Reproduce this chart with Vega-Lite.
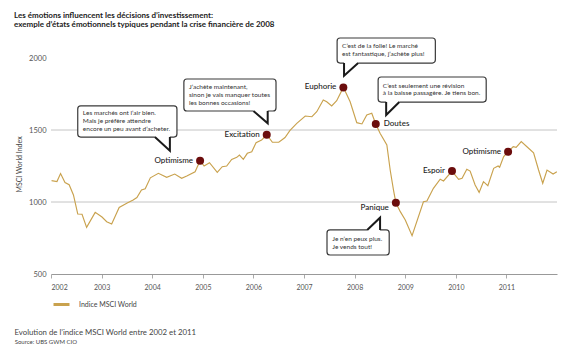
{
  "$schema": "https://vega.github.io/schema/vega-lite/v6.json",
  "width": 506,
  "height": 216,
  "autosize": {"type": "none"},
  "padding": {"left": 51, "top": 58, "right": 23, "bottom": 84},
  "background": "white",
  "title": {
    "text": ["Les émotions influencent les décisions d’investissement:", "exemple d’états émotionnels typiques pendant la crise financière de 2008"],
    "anchor": "start", "frame": "group", "dx": -37, "offset": 8,
    "font": "Lato", "fontSize": 8, "fontWeight": "bold", "color": "#222", "lineHeight": 9.5
  },
  "datasets": {
    "index": [
      {"date": "2002-01-05", "value": 1148}, {"date": "2002-02-13", "value": 1142}, {"date": "2002-03-11", "value": 1198},
      {"date": "2002-04-12", "value": 1135}, {"date": "2002-05-12", "value": 1120}, {"date": "2002-06-12", "value": 1049},
      {"date": "2002-07-13", "value": 917}, {"date": "2002-08-13", "value": 915}, {"date": "2002-09-15", "value": 824},
      {"date": "2002-11-16", "value": 928}, {"date": "2003-01-04", "value": 896}, {"date": "2003-02-07", "value": 863},
      {"date": "2003-03-15", "value": 847}, {"date": "2003-05-08", "value": 962}, {"date": "2003-07-05", "value": 993},
      {"date": "2003-08-17", "value": 1014}, {"date": "2003-09-13", "value": 1031}, {"date": "2003-10-16", "value": 1083},
      {"date": "2003-11-12", "value": 1092}, {"date": "2003-12-19", "value": 1168}, {"date": "2004-02-15", "value": 1199},
      {"date": "2004-04-15", "value": 1171}, {"date": "2004-06-12", "value": 1194}, {"date": "2004-08-01", "value": 1165},
      {"date": "2004-09-07", "value": 1181}, {"date": "2004-11-06", "value": 1210}, {"date": "2004-12-12", "value": 1287},
      {"date": "2005-01-10", "value": 1250}, {"date": "2005-02-18", "value": 1273}, {"date": "2005-04-15", "value": 1206},
      {"date": "2005-05-21", "value": 1245}, {"date": "2005-06-22", "value": 1250}, {"date": "2005-07-28", "value": 1296},
      {"date": "2005-09-03", "value": 1310}, {"date": "2005-09-22", "value": 1326}, {"date": "2005-10-20", "value": 1296},
      {"date": "2005-11-18", "value": 1338}, {"date": "2005-12-20", "value": 1349}, {"date": "2006-01-20", "value": 1412},
      {"date": "2006-03-01", "value": 1430}, {"date": "2006-04-07", "value": 1467}, {"date": "2006-05-18", "value": 1415},
      {"date": "2006-07-03", "value": 1415}, {"date": "2006-08-17", "value": 1448}, {"date": "2006-09-22", "value": 1497},
      {"date": "2006-11-10", "value": 1546}, {"date": "2007-01-10", "value": 1597}, {"date": "2007-02-27", "value": 1592},
      {"date": "2007-04-03", "value": 1627}, {"date": "2007-05-20", "value": 1708}, {"date": "2007-06-14", "value": 1696},
      {"date": "2007-07-20", "value": 1667}, {"date": "2007-08-25", "value": 1703}, {"date": "2007-10-12", "value": 1796},
      {"date": "2007-11-30", "value": 1696}, {"date": "2008-01-17", "value": 1551}, {"date": "2008-02-23", "value": 1542},
      {"date": "2008-03-29", "value": 1604}, {"date": "2008-05-04", "value": 1616}, {"date": "2008-06-02", "value": 1542},
      {"date": "2008-07-03", "value": 1477}, {"date": "2008-08-21", "value": 1396}, {"date": "2008-09-14", "value": 1222},
      {"date": "2008-10-08", "value": 1083}, {"date": "2008-10-25", "value": 995}, {"date": "2008-11-26", "value": 933},
      {"date": "2009-01-01", "value": 875}, {"date": "2009-02-19", "value": 766}, {"date": "2009-05-12", "value": 1002},
      {"date": "2009-06-06", "value": 1007}, {"date": "2009-07-23", "value": 1095}, {"date": "2009-09-10", "value": 1158},
      {"date": "2009-10-04", "value": 1146}, {"date": "2009-12-04", "value": 1215}, {"date": "2010-01-21", "value": 1158},
      {"date": "2010-02-15", "value": 1165}, {"date": "2010-03-21", "value": 1227}, {"date": "2010-04-14", "value": 1215},
      {"date": "2010-05-20", "value": 1118}, {"date": "2010-06-18", "value": 1067}, {"date": "2010-07-19", "value": 1141},
      {"date": "2010-08-20", "value": 1113}, {"date": "2010-10-01", "value": 1234}, {"date": "2010-11-02", "value": 1250},
      {"date": "2010-11-13", "value": 1241}, {"date": "2010-12-12", "value": 1315}, {"date": "2011-01-13", "value": 1349},
      {"date": "2011-02-19", "value": 1384}, {"date": "2011-03-12", "value": 1380}, {"date": "2011-04-18", "value": 1419},
      {"date": "2011-05-29", "value": 1384}, {"date": "2011-07-16", "value": 1342}, {"date": "2011-08-21", "value": 1222},
      {"date": "2011-09-20", "value": 1130}, {"date": "2011-10-21", "value": 1222}, {"date": "2011-12-04", "value": 1194},
      {"date": "2011-12-31", "value": 1210}
    ],
    "events": [
      {"date": "2004-12-12", "value": 1287, "label": "Optimisme", "pos": "left"},
      {"date": "2006-04-07", "value": 1467, "label": "Excitation", "pos": "left"},
      {"date": "2007-10-12", "value": 1796, "label": "Euphorie", "pos": "left"},
      {"date": "2008-06-02", "value": 1542, "label": "Doutes", "pos": "right"},
      {"date": "2008-10-25", "value": 995, "label": "Panique", "pos": "below"},
      {"date": "2009-12-04", "value": 1215, "label": "Espoir", "pos": "left"},
      {"date": "2011-01-13", "value": 1349, "label": "Optimisme", "pos": "left"}
    ],
    "bubbles": [
      {"id": 1, "x1": "2002-07-13", "x2": "2004-06-28", "y1": 1667, "y2": 1451},
      {"id": 2, "x1": "2004-08-17", "x2": "2006-06-13", "y1": 1854, "y2": 1632},
      {"id": 3, "x1": "2007-08-28", "x2": "2009-08-06", "y1": 2139, "y2": 1965},
      {"id": 4, "x1": "2008-06-19", "x2": "2010-08-08", "y1": 1868, "y2": 1694},
      {"id": 5, "x1": "2007-06-16", "x2": "2008-09-07", "y1": 806, "y2": 632}
    ],
    "btext": [
      {"id": 1, "date": "2002-08-19", "value": 1621, "text": "Les marchés ont l’air bien."},
      {"id": 1, "date": "2002-08-19", "value": 1562, "text": "Mais je préfère attendre"},
      {"id": 1, "date": "2002-08-19", "value": 1507, "text": "encore un peu avant d’acheter."},
      {"id": 2, "date": "2004-09-23", "value": 1799, "text": "J’achète maintenant,"},
      {"id": 2, "date": "2004-09-23", "value": 1743, "text": "sinon je vais manquer toutes"},
      {"id": 2, "date": "2004-09-23", "value": 1688, "text": "les bonnes occasions!"},
      {"id": 3, "date": "2007-10-03", "value": 2083, "text": "C’est de la folie! Le marché"},
      {"id": 3, "date": "2007-10-03", "value": 2028, "text": "est fantastique, j’achète plus!"},
      {"id": 4, "date": "2008-07-23", "value": 1805, "text": "C’est seulement une révision"},
      {"id": 4, "date": "2008-07-23", "value": 1755, "text": "à la baisse passagère. Je tiens bon."},
      {"id": 5, "date": "2007-07-24", "value": 743, "text": "Je n’en peux plus."},
      {"id": 5, "date": "2007-07-24", "value": 687, "text": "Je vends tout!"}
    ],
    "tails": [
      {"id": 1, "ord": 1, "date": "2004-01-21", "value": 1451},
      {"id": 1, "ord": 2, "date": "2004-05-08", "value": 1356},
      {"id": 1, "ord": 3, "date": "2004-05-08", "value": 1451},
      {"id": 2, "ord": 1, "date": "2006-01-01", "value": 1632},
      {"id": 2, "ord": 2, "date": "2006-04-14", "value": 1546},
      {"id": 2, "ord": 3, "date": "2006-04-14", "value": 1632},
      {"id": 3, "ord": 1, "date": "2007-10-17", "value": 1965},
      {"id": 3, "ord": 2, "date": "2007-10-17", "value": 1877},
      {"id": 3, "ord": 3, "date": "2008-01-27", "value": 1965},
      {"id": 4, "ord": 1, "date": "2008-08-16", "value": 1694},
      {"id": 4, "ord": 2, "date": "2008-08-16", "value": 1604},
      {"id": 4, "ord": 3, "date": "2008-11-19", "value": 1694},
      {"id": 5, "ord": 1, "date": "2008-04-01", "value": 806},
      {"id": 5, "ord": 2, "date": "2008-07-03", "value": 891},
      {"id": 5, "ord": 3, "date": "2008-07-03", "value": 806}
    ],
    "gaps": [
      {"id": 1, "d1": "2004-01-21", "d2": "2004-05-08", "value": 1451},
      {"id": 2, "d1": "2006-01-01", "d2": "2006-04-14", "value": 1632},
      {"id": 3, "d1": "2007-10-17", "d2": "2008-01-27", "value": 1965},
      {"id": 4, "d1": "2008-08-16", "d2": "2008-11-19", "value": 1694},
      {"id": 5, "d1": "2008-04-01", "d2": "2008-07-03", "value": 806}
    ],
    "grid": [{"v": 1000}, {"v": 1500}],
    "source": [{"date": "2001-04-14", "value": 30, "text": "Source: UBS GWM CIO"}]
  },
  "layer": [
    {
      "data": {"name": "grid"},
      "mark": {"type": "rule", "color": "#c4c4c4", "strokeWidth": 1},
      "encoding": {"y": {"field": "v", "type": "quantitative", "scale": {"domain": [500, 2000]}}}
    },
    {
      "data": {"name": "index"},
      "mark": {"type": "line", "strokeWidth": 1.15},
      "encoding": {
        "x": {
          "field": "date", "type": "temporal",
          "scale": {"domain": ["2002-01-01", "2012-01-01"]},
          "axis": {
            "values": [{"year": 2002}, {"year": 2003}, {"year": 2004}, {"year": 2005}, {"year": 2006}, {"year": 2007}, {"year": 2008}, {"year": 2009}, {"year": 2010}, {"year": 2011}],
            "format": "%Y", "labelFlush": true, "grid": false,
            "domainColor": "#999", "tickColor": "#aaa", "tickSize": 4,
            "labelFont": "Lato", "labelFontSize": 7, "labelColor": "#555", "labelPadding": 5,
            "title": "Evolution de l’indice MSCI World entre 2002 et 2011",
            "titleFont": "Lato", "titleFontSize": 7.8, "titleFontWeight": "normal", "titleColor": "#444",
            "titleAnchor": "start", "titleAlign": "left", "titleBaseline": "middle", "titleX": -37, "titleY": 58
          }
        },
        "y": {
          "field": "value", "type": "quantitative",
          "scale": {"domain": [500, 2000]},
          "axis": {
            "values": [500, 1000, 1500, 2000], "format": "d", "grid": false, "domain": false, "ticks": false,
            "labelFont": "Lato", "labelFontSize": 7.5, "labelColor": "#555", "labelPadding": 5,
            "title": "MSCI World Index", "titleFont": "Lato", "titleFontSize": 7, "titleFontWeight": "normal",
            "titleColor": "#444", "titleX": -32, "titleY": 106, "titleAlign": "center", "titleBaseline": "middle"
          }
        },
        "color": {
          "datum": "Indice MSCI World",
          "scale": {"range": ["#c9a24e"]},
          "legend": {
            "title": null, "orient": "none", "legendX": 1, "legendY": 237,
            "symbolType": "stroke", "symbolSize": 256, "symbolStrokeWidth": 3,
            "labelFont": "Lato", "labelFontSize": 7, "labelColor": "#444", "labelOffset": 8
          }
        }
      }
    },
    {
      "data": {"name": "events"},
      "mark": {"type": "circle", "color": "#6b0d0d", "opacity": 1, "size": 64},
      "encoding": {
        "x": {"field": "date", "type": "temporal"},
        "y": {"field": "value", "type": "quantitative", "scale": {"domain": [500, 2000]}}
      }
    },
    {
      "data": {"name": "events"},
      "transform": [{"filter": "datum.pos === 'left'"}],
      "mark": {"type": "text", "align": "right", "baseline": "middle", "dx": -7, "font": "Lato", "fontSize": 8, "fontWeight": 500, "color": "#222"},
      "encoding": {
        "x": {"field": "date", "type": "temporal"},
        "y": {"field": "value", "type": "quantitative", "scale": {"domain": [500, 2000]}},
        "text": {"field": "label"}
      }
    },
    {
      "data": {"name": "events"},
      "transform": [{"filter": "datum.pos === 'right'"}],
      "mark": {"type": "text", "align": "left", "baseline": "middle", "dx": 8, "font": "Lato", "fontSize": 8, "fontWeight": 500, "color": "#222"},
      "encoding": {
        "x": {"field": "date", "type": "temporal"},
        "y": {"field": "value", "type": "quantitative", "scale": {"domain": [500, 2000]}},
        "text": {"field": "label"}
      }
    },
    {
      "data": {"name": "events"},
      "transform": [{"filter": "datum.pos === 'below'"}],
      "mark": {"type": "text", "align": "right", "baseline": "middle", "dx": -7, "dy": 5, "font": "Lato", "fontSize": 8, "fontWeight": 500, "color": "#222"},
      "encoding": {
        "x": {"field": "date", "type": "temporal"},
        "y": {"field": "value", "type": "quantitative", "scale": {"domain": [500, 2000]}},
        "text": {"field": "label"}
      }
    },
    {
      "data": {"name": "bubbles"},
      "mark": {"type": "rect", "fill": "white", "stroke": "#3a3a3a", "strokeWidth": 1.2, "cornerRadius": 3},
      "encoding": {
        "x": {"field": "x1", "type": "temporal"},
        "x2": {"field": "x2"},
        "y": {"field": "y1", "type": "quantitative", "scale": {"domain": [500, 2000]}},
        "y2": {"field": "y2"}
      }
    },
    {
      "data": {"name": "gaps"},
      "mark": {"type": "rule", "color": "white", "strokeWidth": 2.5},
      "encoding": {
        "x": {"field": "d1", "type": "temporal"},
        "x2": {"field": "d2"},
        "y": {"field": "value", "type": "quantitative", "scale": {"domain": [500, 2000]}}
      }
    },
    {
      "data": {"name": "tails"},
      "mark": {"type": "line", "color": "#1a1a1a", "strokeWidth": 2, "strokeJoin": "miter"},
      "encoding": {
        "x": {"field": "date", "type": "temporal"},
        "y": {"field": "value", "type": "quantitative", "scale": {"domain": [500, 2000]}},
        "detail": {"field": "id"},
        "order": {"field": "ord"}
      }
    },
    {
      "data": {"name": "btext"},
      "mark": {"type": "text", "align": "left", "baseline": "middle", "font": "Lato", "fontSize": 6.5, "color": "#333"},
      "encoding": {
        "x": {"field": "date", "type": "temporal"},
        "y": {"field": "value", "type": "quantitative", "scale": {"domain": [500, 2000]}},
        "text": {"field": "text"}
      }
    },
    {
      "data": {"name": "source"},
      "mark": {"type": "text", "align": "left", "baseline": "middle", "font": "Lato", "fontSize": 6, "color": "#444"},
      "encoding": {
        "x": {"field": "date", "type": "temporal"},
        "y": {"field": "value", "type": "quantitative", "scale": {"domain": [500, 2000]}},
        "text": {"field": "text"}
      }
    }
  ],
  "config": {"view": {"stroke": null}}
}
